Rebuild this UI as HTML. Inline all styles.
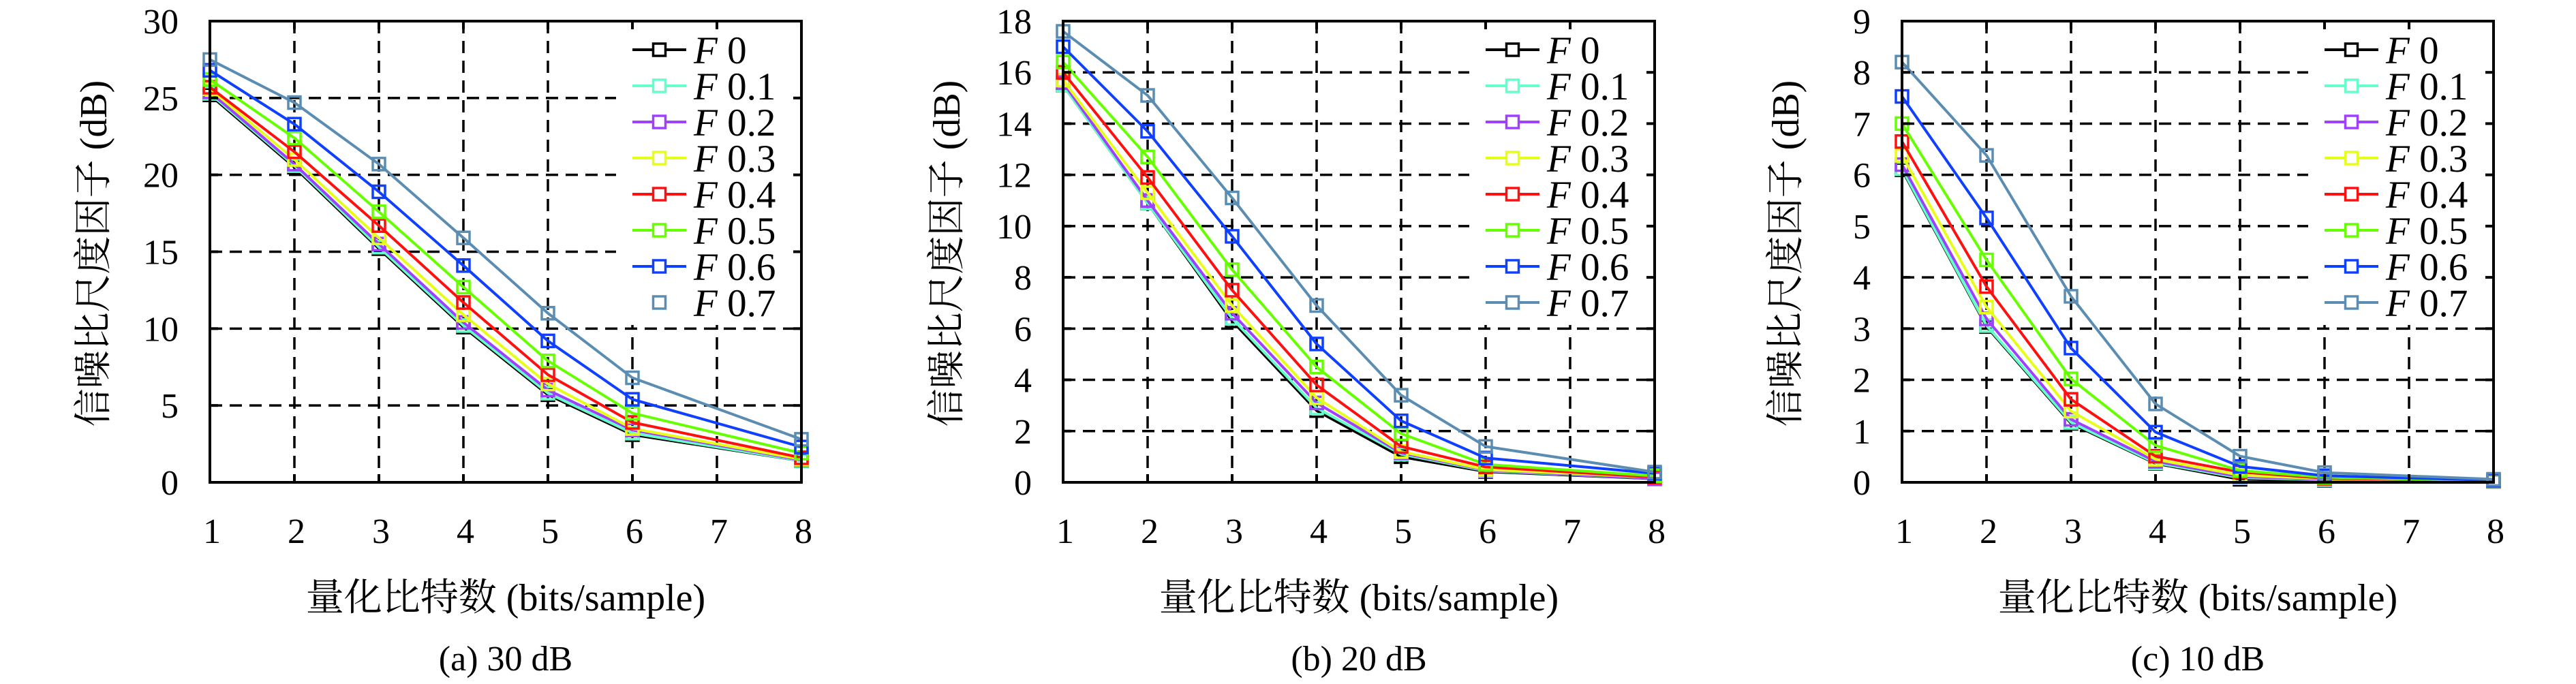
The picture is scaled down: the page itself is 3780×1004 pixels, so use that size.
<!DOCTYPE html>
<html><head><meta charset="utf-8">
<style>
html,body{margin:0;padding:0;background:#fff;}
svg{display:block;}
text{font-family:"Liberation Serif","Noto Serif CJK SC",serif;fill:#000;}
.cjk{font-family:"Liberation Serif","Noto Serif CJK SC",serif;}
</style></head>
<body>
<svg id="fig" width="3780" height="1004" viewBox="0 0 3780 1004" xmlns="http://www.w3.org/2000/svg"></svg>
<script>
const xCats = [1,2,3,4,5,6,8];
const xTicks = [1,2,3,4,5,6,7,8];
const seriesNames = ["F0","F0.1","F0.2","F0.3","F0.4","F0.5","F0.6","F0.7"];
const seriesLabels = ["0","0.1","0.2","0.3","0.4","0.5","0.6","0.7"];
const seriesColors = ["#000000","#66ffcc","#a040ff","#e6ff1a","#ff1010","#66ff00","#1040ff","#5b8db3"];
// panel a (30 dB)
const a_F0  = [25.2,20.5,15.2,10.1,5.7,3.1,1.4];
const a_F01 = [25.3,20.6,15.3,10.2,5.8,3.2,1.4];
const a_F02 = [25.4,20.7,15.5,10.4,6.0,3.4,1.45];
const a_F03 = [25.6,21.0,15.9,10.9,6.4,3.5,1.5];
const a_F04 = [25.7,21.5,16.7,11.7,7.0,3.9,1.6];
const a_F05 = [26.2,22.4,17.6,12.7,7.9,4.5,1.9];
const a_F06 = [26.8,23.3,18.9,14.1,9.2,5.4,2.3];
const a_F07 = [27.5,24.7,20.7,15.9,11.0,6.8,2.8];
const a_yTicks = [0,5,10,15,20,25,30];
// panel b (20 dB)
const b_F0  = [15.5,10.9,6.3,2.8,1.0,0.42,0.14];
const b_F01 = [15.5,10.9,6.4,2.9,1.1,0.45,0.15];
const b_F02 = [15.6,11.0,6.6,3.1,1.15,0.48,0.15];
const b_F03 = [15.7,11.3,6.9,3.3,1.2,0.5,0.2];
const b_F04 = [16.0,11.9,7.5,3.8,1.4,0.6,0.2];
const b_F05 = [16.4,12.7,8.3,4.5,1.9,0.7,0.25];
const b_F06 = [17.0,13.7,9.6,5.4,2.4,0.95,0.35];
const b_F07 = [17.6,15.1,11.1,6.9,3.4,1.4,0.4];
const b_yTicks = [0,2,4,6,8,10,12,14,16,18];
// panel c (10 dB)
const c_F0  = [6.1,3.04,1.15,0.37,0.06,0.04,0.02];
const c_F01 = [6.12,3.06,1.17,0.38,0.09,0.05,0.02];
const c_F02 = [6.2,3.19,1.23,0.41,0.11,0.06,0.02];
const c_F03 = [6.38,3.42,1.39,0.45,0.14,0.07,0.03];
const c_F04 = [6.65,3.82,1.62,0.51,0.2,0.08,0.03];
const c_F05 = [7.0,4.34,2.02,0.72,0.23,0.1,0.03];
const c_F06 = [7.53,5.16,2.62,0.98,0.31,0.13,0.04];
const c_F07 = [8.2,6.38,3.63,1.53,0.51,0.19,0.06];
const c_yTicks = [0,1,2,3,4,5,6,7,8,9];
const captions = ["(a) 30 dB","(b) 20 dB","(c) 10 dB"];

const NS="http://www.w3.org/2000/svg";
const svg=document.getElementById('fig');
function mk(tag,attrs,parent){const e=document.createElementNS(NS,tag);for(const k in attrs)e.setAttribute(k,attrs[k]);(parent||svg).appendChild(e);return e;}

const panels=[
 {id:'a',left:308,data:[a_F0,a_F01,a_F02,a_F03,a_F04,a_F05,a_F06,a_F07],yTicks:a_yTicks,ymax:30,legendLine7:false,cap:captions[0]},
 {id:'b',left:1560,data:[b_F0,b_F01,b_F02,b_F03,b_F04,b_F05,b_F06,b_F07],yTicks:b_yTicks,ymax:18,legendLine7:true,cap:captions[1]},
 {id:'c',left:2791,data:[c_F0,c_F01,c_F02,c_F03,c_F04,c_F05,c_F06,c_F07],yTicks:c_yTicks,ymax:9,legendLine7:true,cap:captions[2]}
];
const W=868, TOP=31, BOT=708;

panels.forEach((p)=>{
  const g=mk('g',{});
  
  
  const L=p.left,R=L+W;
  const xs=v=>L+(v-1)/7*W;
  const ys=v=>BOT-(v/p.ymax)*(BOT-TOP);
  const grid=mk('g',{stroke:'#000','stroke-width':3.5,'stroke-dasharray':'18 11',fill:'none'},g);
  
  
  xTicks.forEach(t=>{if(t>1&&t<8){const l=mk('line',{x1:xs(t),x2:xs(t),y1:TOP,y2:BOT},grid);}});
  p.yTicks.forEach(t=>{if(t>0&&t<p.ymax){const l=mk('line',{x1:L,x2:R,y1:ys(t),y2:ys(t)},grid);}});
  const lg=mk('g',{},g);
  
  
  mk('rect',{x:R-272,y:TOP+8,width:268,height:438,fill:'#fff'},lg);
  p.data.forEach((vals,si)=>{
    const sg=mk('g',{},g);
    
    
    const pts=vals.map((v,i)=>xs(xCats[i])+','+ys(v)).join(' ');
    const pl=mk('polyline',{points:pts,fill:'none',stroke:seriesColors[si],'stroke-width':4,'stroke-linejoin':'round'},sg);
    
    
    vals.forEach((v,i)=>{
      const r=mk('rect',{x:xs(xCats[i])-9,y:ys(v)-9,width:18,height:18,fill:'none',stroke:seriesColors[si],'stroke-width':3.5},sg);
      
      
    });
  });
  seriesNames.forEach((n,si)=>{
    const y=TOP+42+si*53;
    const eg=mk('g',{},lg);
    
    
    const lx1=R-248,lx2=R-169;
    if(si<7||p.legendLine7) mk('line',{x1:lx1,x2:lx2,y1:y,y2:y,stroke:seriesColors[si],'stroke-width':4},eg);
    mk('rect',{x:(lx1+lx2)/2-9,y:y-9,width:18,height:18,fill:'#fff',stroke:seriesColors[si],'stroke-width':3.5},eg);
    const t=mk('text',{x:R-158,y:y+20,'font-size':57},eg);
    const f=mk('tspan',{'font-style':'italic'},t);f.textContent='F';
    const s=mk('tspan',{},t);s.textContent='\u00a0'+seriesLabels[si];
  });
  const fr=mk('rect',{x:L,y:TOP,width:W,height:BOT-TOP,fill:'none',stroke:'#000','stroke-width':4},g);
  
  
  xTicks.forEach(t=>{
    mk('line',{x1:xs(t),x2:xs(t),y1:BOT,y2:BOT-12,stroke:'#000','stroke-width':4},g);
    mk('line',{x1:xs(t),x2:xs(t),y1:TOP,y2:TOP+12,stroke:'#000','stroke-width':4},g);
    const tx=mk('text',{x:xs(t)+3,y:797,'font-size':52,'text-anchor':'middle'},g);
    
    
    tx.textContent=t;
  });
  p.yTicks.forEach(t=>{
    mk('line',{x1:L,x2:L+12,y1:ys(t),y2:ys(t),stroke:'#000','stroke-width':4},g);
    mk('line',{x1:R,x2:R-12,y1:ys(t),y2:ys(t),stroke:'#000','stroke-width':4},g);
    const ty=mk('text',{x:L-46,y:ys(t)+18,'font-size':52,'text-anchor':'end'},g);
    
    
    ty.textContent=t;
  });
  const xt=mk('text',{x:L+W/2,y:896,'font-size':56,'text-anchor':'middle','class':'cjk'},g);
  
  
  xt.textContent='量化比特数 (bits/sample)';
  const yx=L-152, yy=372;
  const yt=mk('text',{x:yx,y:yy,'font-size':56,'text-anchor':'middle','class':'cjk',transform:'rotate(-90 '+yx+' '+yy+')'},g);
  
  
  yt.textContent='信噪比尺度因子 (dB)';
  const cp=mk('text',{x:L+W/2,y:984,'font-size':52,'text-anchor':'middle'},g);
  
  
  cp.textContent=p.cap;
});
</script>
</body></html>
